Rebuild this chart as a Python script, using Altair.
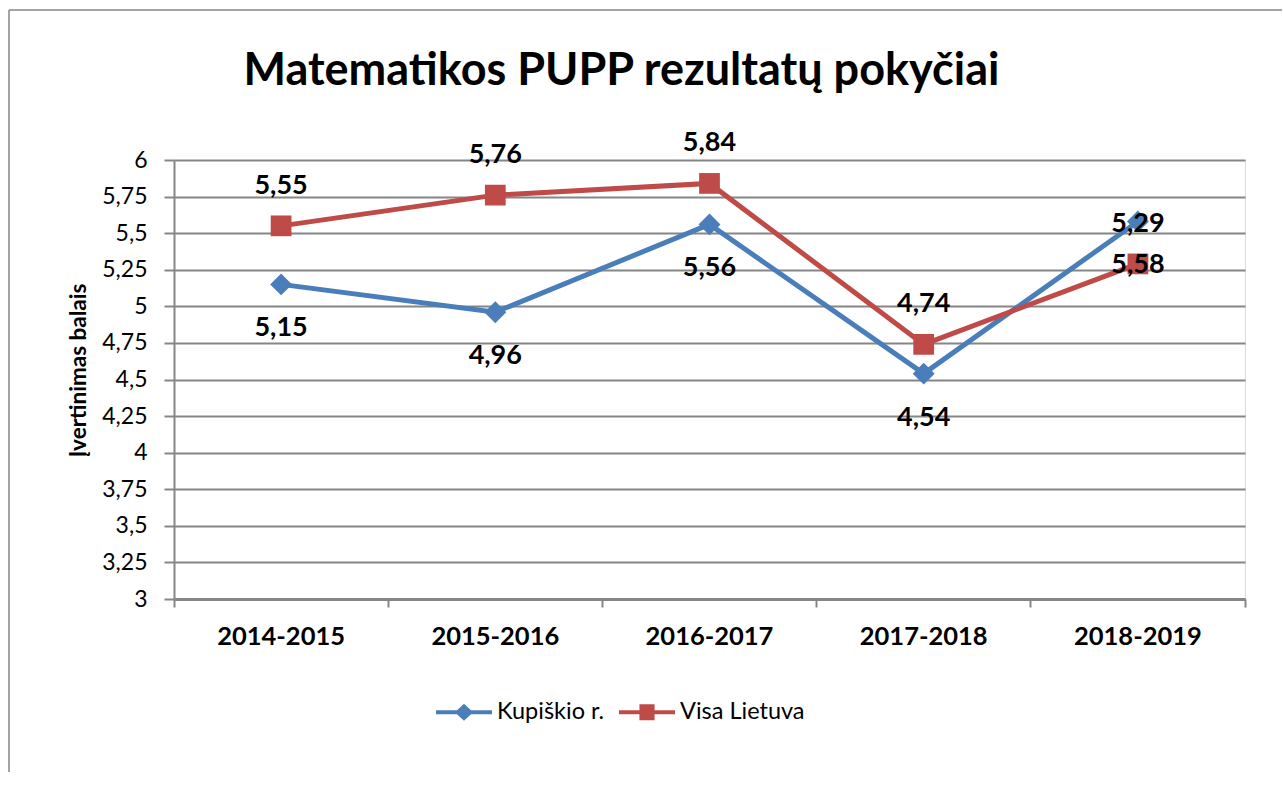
import altair as alt
import pandas as pd

categories = ["2014-2015", "2015-2016", "2016-2017", "2017-2018", "2018-2019"]
series_names = ["Kupiškio r.", "Visa Lietuva"]
kupiskio = [5.15, 4.96, 5.56, 4.54, 5.58]
lietuva = [5.55, 5.76, 5.84, 4.74, 5.29]
y_ticks = [3, 3.25, 3.5, 3.75, 4, 4.25, 4.5, 4.75, 5, 5.25, 5.5, 5.75, 6]

rows = []
for s, vals in zip(series_names, [kupiskio, lietuva]):
    for c, v in zip(categories, vals):
        rows.append({"metai": c, "serija": s, "balas": v,
                     "zyma": f"{v:.2f}".replace(".", ",")})
df = pd.DataFrame(rows)

FONT = "Lato"
BLUE = "#4A7EBB"
RED = "#BE4B48"
GRAY = "#868686"
W, H = 1071, 439

x_enc = alt.X("metai:N", sort=categories, bandPosition=0.5,
              scale=alt.Scale(type="band", paddingInner=0, paddingOuter=0),
              axis=alt.Axis(title=None, bandPosition=1, tickExtra=True,
                            labelFont=FONT, labelFontSize=25.5,
                            labelFontWeight="bold", labelColor="black",
                            labelBaseline="middle", labelPadding=29,
                            tickSize=8, tickColor=GRAY, tickWidth=2,
                            domainColor=GRAY, domainWidth=3, grid=False, labelAngle=0))
y_enc = alt.Y("balas:Q",
              scale=alt.Scale(domain=[3, 6], nice=False, zero=False),
              axis=alt.Axis(title="Įvertinimas balais", values=y_ticks,
                            labelExpr="replace(toString(datum.value), '.', ',')",
                            labelFont=FONT, labelFontSize=23, labelColor="black",
                            labelPadding=17, tickSize=10, tickColor=GRAY, tickWidth=2,
                            domainColor=GRAY, domainWidth=2,
                            gridColor=GRAY, gridWidth=2,
                            titleFont=FONT, titleFontSize=22.5, titleFontWeight="bold",
                            titleColor="black", titleX=-96, titleY=210,
                            titleBaseline="middle"))

base = alt.Chart(df)


def series_layers(name, color, shape, size, dy):
    sub = base.transform_filter(alt.datum.serija == name)
    line = sub.mark_line(strokeWidth=5, color=color).encode(x=x_enc, y=y_enc)
    pts = sub.mark_point(shape=shape, filled=True, size=size, opacity=1,
                         color=color).encode(x=x_enc, y=y_enc)
    lbl = sub.mark_text(font=FONT, fontSize=27, fontWeight="bold", color="black",
                        dy=dy, baseline="middle").encode(x=x_enc, y=y_enc, text="zyma:N")
    return line, pts, lbl


line_b, pts_b, lbl_b = series_layers(series_names[0], BLUE, "diamond", 480, 44)
line_r, pts_r, lbl_r = series_layers(series_names[1], RED, "square", 430, -40)

# legend-only layer (no data drawn) with line+marker symbols
diamond_path = ("M-1,-0.075L-0.25,-0.075L0,-0.3L0.25,-0.075L1,-0.075L1,0.075"
                "L0.25,0.075L0,0.3L-0.25,0.075L-1,0.075Z")
square_path = ("M-1,-0.075L-0.27,-0.075L-0.27,-0.29L0.27,-0.29L0.27,-0.075L1,-0.075"
               "L1,0.075L0.27,0.075L0.27,0.29L-0.27,0.29L-0.27,0.075L-1,0.075Z")
legend_layer = base.transform_filter("false").mark_point(filled=True, opacity=1).encode(
    x=x_enc, y=y_enc,
    color=alt.Color("serija:N", scale=alt.Scale(domain=series_names, range=[BLUE, RED]),
                    legend=alt.Legend(title=None, orient="none", direction="horizontal",
                                      legendX=262, legendY=524,
                                      labelFont=FONT, labelFontSize=23.5, labelColor="black",
                                      symbolSize=3136, symbolStrokeWidth=0,
                                      labelOffset=5, columnPadding=14)),
    shape=alt.Shape("serija:N", scale=alt.Scale(domain=series_names,
                                                range=[diamond_path, square_path])),
)

# outer frame (decorative)
frame_left = alt.Chart(pd.DataFrame({"k": [0]})).mark_rule(color=GRAY, strokeWidth=1.5).encode(
    x=alt.value(-165), y=alt.value(-150), y2=alt.value(612))
frame_top = alt.Chart(pd.DataFrame({"k": [0]})).mark_rule(color=GRAY, strokeWidth=1.5).encode(
    x=alt.value(-165), x2=alt.value(1108), y=alt.value(-150))

chart = alt.layer(
    frame_left, frame_top, line_b, pts_b, line_r, pts_r, lbl_b, lbl_r, legend_layer
).properties(
    width=W, height=H,
    padding={"left": 8, "top": 9, "right": 0, "bottom": 0},
    title=alt.TitleParams("Matematikos PUPP rezultatų pokyčiai", font=FONT,
                          fontSize=45, fontWeight="bold", color="black",
                          anchor="middle", offset=-85, dx=-88),
).configure_view(stroke=None).configure(background="white")

chart.save("out.html", embed_options={"renderer": "svg", "actions": False})
